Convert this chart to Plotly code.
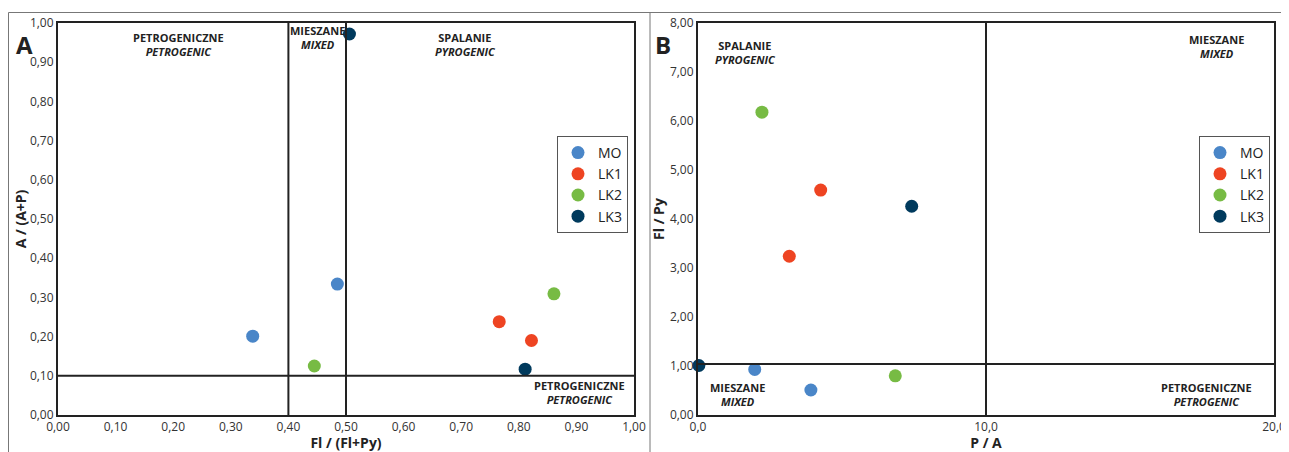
import plotly.graph_objects as go

# page body has an 8px default margin, so the figure is sized to fill the rest of the window
OFF = 8
W, H = 1289 - OFF, 452 - OFF
FONT = "Open Sans"

series = ["MO", "LK1", "LK2", "LK3"]
colors = ["#4a86c8", "#ee4422", "#77bb44", "#003a5d"]

# Panel A: Fl/(Fl+Py) vs A/(A+P)
a_x = {"MO": [0.338, 0.485], "LK1": [0.766, 0.822], "LK2": [0.445, 0.861], "LK3": [0.506, 0.811]}
a_y = {"MO": [0.201, 0.334], "LK1": [0.238, 0.190], "LK2": [0.125, 0.309], "LK3": [0.972, 0.117]}

# Panel B: P/A vs Fl/Py
b_x = {"MO": [1.97, 3.92], "LK1": [4.26, 3.17], "LK2": [2.22, 6.85], "LK3": [0.03, 7.42]}
b_y = {"MO": [0.93, 0.51], "LK1": [4.59, 3.24], "LK2": [6.18, 0.80], "LK3": [1.01, 4.26]}

a_ticks = [0.0, 0.1, 0.2, 0.3, 0.4, 0.5, 0.6, 0.7, 0.8, 0.9, 1.0]
a_ticklabels = ["0,00", "0,10", "0,20", "0,30", "0,40", "0,50", "0,60", "0,70", "0,80", "0,90", "1,00"]
b_xticks = [0, 10, 20]
b_xticklabels = ["0,0", "10,0", "20,0"]
b_yticks = [0, 1, 2, 3, 4, 5, 6, 7, 8]
b_yticklabels = ["0,00", "1,00", "2,00", "3,00", "4,00", "5,00", "6,00", "7,00", "8,00"]

a_vlines = [0.40, 0.50]
a_hline = 0.10
b_vline = 10.0
b_hline = 1.04

# plot area in window pixels
L, R, T, B = 58 - OFF, 1274 - OFF, 23 - OFF, 415 - OFF
PW, PH = R - L, B - T


def px(v):
    """window x pixel -> paper fraction"""
    return (v - OFF - L) / PW


def py(v):
    """window y pixel -> paper fraction"""
    return (B - (v - OFF)) / PH


fig = go.Figure()
for s, c in zip(series, colors):
    fig.add_trace(go.Scatter(x=a_x[s], y=a_y[s], mode="markers", name=s,
                             marker=dict(color=c, size=13), xaxis="x", yaxis="y",
                             legend="legend", cliponaxis=False))
for s, c in zip(series, colors):
    fig.add_trace(go.Scatter(x=b_x[s], y=b_y[s], mode="markers", name=s,
                             marker=dict(color=c, size=13), xaxis="x2", yaxis="y2",
                             legend="legend2", cliponaxis=False))

axis_common = dict(showgrid=False, zeroline=False, showline=True, linecolor="#222",
                   linewidth=2, mirror=True, ticks="", automargin=False,
                   tickfont=dict(family=FONT, size=12, color="#333"), fixedrange=True)
title_font = dict(family=FONT, size=14, color="#222")
legend_common = dict(xanchor="left", yanchor="top", bgcolor="white", bordercolor="#555",
                     borderwidth=1, font=dict(family=FONT, size=14, color="#222"),
                     itemwidth=30, tracegroupgap=0)

fig.update_layout(
    width=W, height=H, margin=dict(l=L, r=W - R, t=T, b=H - B, autoexpand=False),
    paper_bgcolor="white", plot_bgcolor="white",
    font=dict(family=FONT, color="#222"),
    xaxis=dict(domain=[0, px(634)], range=[0, 1], tickvals=a_ticks, ticktext=a_ticklabels,
               title=dict(text="<b>Fl / (Fl+Py)</b>", font=title_font, standoff=1),
               anchor="y", **axis_common),
    yaxis=dict(domain=[0, 1], range=[0, 1], tickvals=a_ticks, ticktext=a_ticklabels,
               title=dict(text="<b>A / (A+P)</b>", font=title_font, standoff=0),
               anchor="x", **axis_common),
    xaxis2=dict(domain=[px(698), 1], range=[0, 20], tickvals=b_xticks, ticktext=b_xticklabels,
                title=dict(text="<b>P / A</b>", font=title_font, standoff=1),
                anchor="y2", **axis_common),
    yaxis2=dict(domain=[0, 1], range=[0, 8], tickvals=b_yticks, ticktext=b_yticklabels,
                title=dict(text="<b>Fl / Py</b>", font=title_font, standoff=2),
                anchor="x2", **axis_common),
    legend=dict(x=px(557), y=py(136), **legend_common),
    legend2=dict(x=px(1199), y=py(136), **legend_common),
    showlegend=True,
)

shapes = []
for v in a_vlines:
    shapes.append(dict(type="line", xref="x", yref="y", x0=v, x1=v, y0=0, y1=1,
                       line=dict(color="#222", width=2)))
shapes.append(dict(type="line", xref="x", yref="y", x0=0, x1=1, y0=a_hline, y1=a_hline,
                   line=dict(color="#222", width=2)))
shapes.append(dict(type="line", xref="x2", yref="y2", x0=b_vline, x1=b_vline, y0=0, y1=8,
                   line=dict(color="#222", width=2)))
shapes.append(dict(type="line", xref="x2", yref="y2", x0=0, x1=20, y0=b_hline, y1=b_hline,
                   line=dict(color="#222", width=2)))
# outer panel frames
shapes.append(dict(type="line", xref="paper", yref="paper", x0=px(8.5), x1=px(1290), y0=py(12.5), y1=py(12.5),
                   line=dict(color="#777", width=1)))
shapes.append(dict(type="line", xref="paper", yref="paper", x0=px(8.5), x1=px(8.5), y0=py(453), y1=py(12.5),
                   line=dict(color="#777", width=1)))
shapes.append(dict(type="line", xref="paper", yref="paper", x0=px(650), x1=px(650), y0=py(453), y1=py(12.5),
                   line=dict(color="#777", width=1)))
fig.update_layout(shapes=shapes)

zones = [
    # (xref, yref, x, y, yshift, line1, line2)
    ("x", "y domain", 0.21, 0.988, 0, "PETROGENICZNE", "PETROGENIC"),
    ("x", "y domain", 0.45, 1.0, 2, "MIESZANE", "MIXED"),
    ("x", "y domain", 0.707, 0.988, 0, "SPALANIE", "PYROGENIC"),
    ("x", "y", 0.905, 0.10, 0, "PETROGENICZNE", "PETROGENIC"),
    ("x2", "y2", 1.65, 7.74, 0, "SPALANIE", "PYROGENIC"),
    ("x2", "y2", 18.0, 7.86, 0, "MIESZANE", "MIXED"),
    ("x2", "y2", 1.36, 0.76, 0, "MIESZANE", "MIXED"),
    ("x2", "y2", 17.64, 0.76, 0, "PETROGENICZNE", "PETROGENIC"),
]
for xr, yr, x, y, ys, l1, l2 in zones:
    fig.add_annotation(xref=xr, yref=yr, x=x, y=y, yshift=ys, xanchor="center", yanchor="top",
                       text=f"<b>{l1}</b><br><b><i>{l2}</i></b>", showarrow=False,
                       font=dict(family=FONT, size=11, color="#222"), align="center")

fig.add_annotation(xref="paper", yref="paper", x=px(14), y=py(26), xanchor="left", yanchor="top",
                   text="<b>A</b>", showarrow=False, font=dict(family=FONT, size=24, color="#222"))
fig.add_annotation(xref="paper", yref="paper", x=px(653), y=py(26), xanchor="left", yanchor="top",
                   text="<b>B</b>", showarrow=False, font=dict(family=FONT, size=24, color="#222"))

fig.write_html("out.html")
